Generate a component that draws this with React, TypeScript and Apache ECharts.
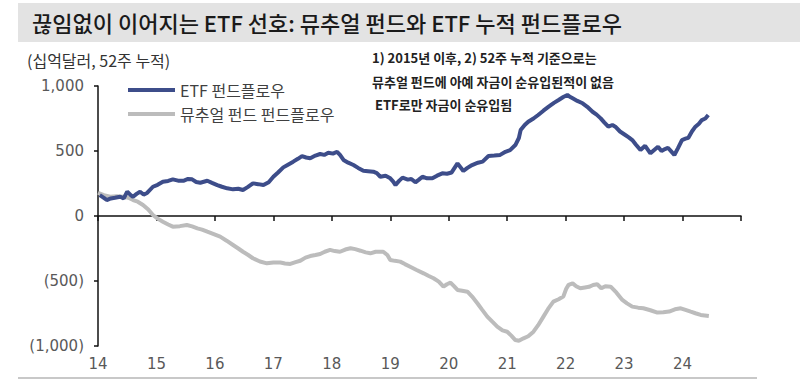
import React, { useEffect, useRef } from "react";
import * as echarts from "echarts";

const titleText = "끊임없이 이어지는 ETF 선호: 뮤추얼 펀드와 ETF 누적 펀드플로우";
const unitText = "(십억달러, 52주 누적)";
const noteLines = [
  "1) 2015년 이후, 2) 52주 누적 기준으로는",
  "뮤추얼 펀드에 아예 자금이 순유입된적이 없음",
  " ETF로만 자금이 순유입됨",
];
const seriesNames = ["ETF 펀드플로우", "뮤추얼 펀드 펀드플로우"];
const xTickLabels = ["14", "15", "16", "17", "18", "19", "20", "21", "22", "23", "24"];

const etfX = [
  14.03, 14.1, 14.15, 14.22, 14.29, 14.38, 14.44, 14.5, 14.56, 14.6, 14.66, 14.72, 14.78, 14.84, 14.94,
  15.02, 15.11, 15.2, 15.28, 15.37, 15.46, 15.54, 15.61, 15.68, 15.75, 15.87, 15.95, 16.04, 16.12,
  16.21, 16.31, 16.4, 16.48, 16.56, 16.65, 16.74, 16.83, 16.92, 17.0, 17.08, 17.17, 17.25, 17.34,
  17.42, 17.49, 17.56, 17.63, 17.72, 17.8, 17.87, 17.94, 18.02, 18.09, 18.14, 18.2, 18.28, 18.37,
  18.45, 18.54, 18.62, 18.71, 18.77, 18.83, 18.92, 19.0, 19.05, 19.09, 19.15, 19.21, 19.3, 19.36,
  19.43, 19.49, 19.55, 19.63, 19.72, 19.8, 19.89, 19.97, 20.05, 20.15, 20.25, 20.32, 20.4, 20.5,
  20.58, 20.68, 20.78, 20.88, 20.97, 21.05, 21.14, 21.2, 21.23, 21.3, 21.36, 21.45, 21.53, 21.62,
  21.71, 21.8, 21.88, 21.96, 22.03, 22.08, 22.12, 22.2, 22.29, 22.37, 22.46, 22.53, 22.6, 22.66,
  22.73, 22.8, 22.85, 22.93, 23.02, 23.08, 23.14, 23.2, 23.28, 23.36, 23.45, 23.52, 23.58, 23.64,
  23.7, 23.75, 23.81, 23.86, 23.92, 23.99, 24.05, 24.1, 24.16, 24.22, 24.28, 24.33, 24.39, 24.44,
];
const etfV = [
  161, 140, 123, 135, 140, 148, 135, 187, 160, 148, 170, 187, 165, 177, 225,
  240, 264, 270, 282, 272, 271, 285, 282, 262, 256, 271, 255, 238, 225,
  213, 205, 210, 200, 222, 251, 245, 238, 260, 302, 335, 374, 395, 418,
  440, 461, 450, 444, 465, 477, 470, 487, 480, 494, 470, 431, 410, 392,
  370, 348, 345, 341, 330, 302, 310, 290, 265, 238, 270, 295, 280, 285,
  259, 280, 302, 290, 290, 310, 328, 325, 335, 405, 346, 370, 392, 410,
  418, 461, 465, 470, 494, 507, 546, 600, 661, 700, 725, 750, 777, 810,
  841, 870, 892, 915, 931, 915, 905, 885, 867, 840, 802, 780, 751, 720,
  687, 700, 687, 650, 623, 605, 584, 550, 507, 540, 482, 510, 533, 500,
  515, 525, 495, 469, 520, 584, 595, 602, 650, 687, 710, 738, 750, 777,
];

const mfX = [
  14.0, 14.1, 14.21, 14.32, 14.43, 14.52, 14.6, 14.68, 14.77, 14.86, 14.94, 15.02, 15.11, 15.2,
  15.28, 15.4, 15.52, 15.61, 15.7, 15.78, 15.87, 15.98, 16.09, 16.2, 16.31, 16.4, 16.48, 16.57,
  16.65, 16.77, 16.89, 17.0, 17.12, 17.2, 17.29, 17.38, 17.46, 17.55, 17.63, 17.72, 17.8, 17.88,
  17.97, 18.05, 18.14, 18.23, 18.32, 18.4, 18.49, 18.58, 18.66, 18.75, 18.88, 18.95, 19.0, 19.08,
  19.17, 19.25, 19.34, 19.45, 19.57, 19.65, 19.74, 19.83, 19.91, 19.97, 20.03, 20.09, 20.15, 20.23,
  20.32, 20.4, 20.49, 20.57, 20.66, 20.75, 20.83, 20.92, 21.0, 21.07, 21.14, 21.2, 21.28, 21.36,
  21.45, 21.53, 21.62, 21.7, 21.79, 21.88, 21.96, 22.01, 22.05, 22.12, 22.18, 22.25, 22.33, 22.4,
  22.47, 22.54, 22.61, 22.68, 22.77, 22.87, 22.97, 23.05, 23.14, 23.24, 23.33, 23.45, 23.57, 23.67,
  23.77, 23.87, 23.97, 24.05, 24.14, 24.22, 24.31, 24.38, 24.45,
];
const mfV = [
  179, 160, 148, 152, 148, 140, 123, 110, 85, 50, 8, -20, -44, -65,
  -82, -78, -69, -80, -95, -105, -121, -140, -159, -190, -223, -250, -275, -300,
  -325, -350, -364, -358, -358, -365, -369, -355, -344, -320, -308, -300, -292, -275,
  -261, -270, -275, -258, -248, -255, -267, -280, -287, -275, -275, -300, -338, -345,
  -351, -370, -390, -415, -441, -460, -479, -505, -544, -525, -513, -540, -569, -575,
  -582, -620, -671, -720, -774, -815, -851, -880, -890, -920, -954, -960, -941, -925,
  -890, -840, -774, -715, -659, -640, -620, -560, -530, -518, -540, -556, -550, -545,
  -531, -525, -556, -540, -544, -590, -646, -672, -697, -705, -710, -725, -743, -740,
  -735, -718, -710, -722, -736, -748, -761, -765, -769,
];

const fmtY = (v: number) => {
  const s = Math.abs(v).toString().replace(/\B(?=(\d{3})+(?!\d))/g, ",");
  return v < 0 ? `(${s})` : s;
};

const FONT = "'Noto Sans CJK KR', 'Noto Sans', sans-serif";
const NUMFONT = "'DejaVu Sans', sans-serif";

export default function App() {
  const ref = useRef<HTMLDivElement>(null);
  useEffect(() => {
    document.body.style.margin = "0";
    if (!ref.current) return;
    const chart = echarts.init(ref.current, undefined, { renderer: "svg" });
    const etfData = etfX.map((x, i) => [x, etfV[i]]);
    const mfData = mfX.map((x, i) => [x, mfV[i]]);
    const xLabel = (v: number) => {
      const s = String(Math.round(v));
      return xTickLabels.includes(s) ? s : "";
    };
    chart.setOption({
      animation: false,
      backgroundColor: "#ffffff",
      textStyle: { fontFamily: FONT },
      grid: { left: 98, right: 59, top: 86, bottom: 35, containLabel: false },
      legend: {
        show: true,
        orient: "vertical",
        left: 123,
        top: 77,
        icon: "rect",
        itemWidth: 47,
        itemHeight: 4,
        itemGap: 8,
        data: seriesNames,
        textStyle: { fontFamily: FONT, fontSize: 16, color: "#404040" },
      },
      xAxis: [
        {
          type: "value",
          min: 14,
          max: 25,
          interval: 1,
          axisLine: { show: true, onZero: true, lineStyle: { color: "#111", width: 1.5 } },
          axisTick: { show: true, length: 5, lineStyle: { color: "#111", width: 1.5 } },
          axisLabel: { show: false },
          splitLine: { show: false },
        },
        {
          type: "value",
          min: 14,
          max: 25,
          interval: 1,
          position: "bottom",
          axisLine: { show: false, onZero: false },
          axisTick: { show: false },
          axisLabel: { show: true, margin: 10, fontSize: 15, color: "#595959", fontFamily: NUMFONT, formatter: xLabel },
          splitLine: { show: false },
        },
      ],
      yAxis: {
        type: "value",
        min: -1000,
        max: 1000,
        interval: 500,
        axisLine: { show: true, lineStyle: { color: "#111", width: 1.5 } },
        axisTick: { show: true, length: 4, lineStyle: { color: "#111", width: 1.5 } },
        axisLabel: { fontSize: 15, color: "#595959", margin: 14, formatter: fmtY, fontFamily: NUMFONT },
        splitLine: { show: false },
      },
      series: [
        {
          name: seriesNames[0],
          type: "line",
          xAxisIndex: 0,
          data: etfData,
          showSymbol: false,
          lineStyle: { color: "#3d4d8a", width: 4 },
          itemStyle: { color: "#3d4d8a" },
          z: 3,
        },
        {
          name: seriesNames[1],
          type: "line",
          xAxisIndex: 0,
          data: mfData,
          showSymbol: false,
          lineStyle: { color: "#bcbcbc", width: 4 },
          itemStyle: { color: "#bcbcbc" },
          z: 2,
        },
      ],
      graphic: [
        { type: "rect", shape: { x: 18, y: 3, width: 782, height: 39 }, style: { fill: "#e3e3e3" }, silent: true },
        {
          type: "text",
          x: 32,
          y: 22,
          style: { text: titleText, font: `500 22px ${FONT}`, fill: "#1a1a1a", textVerticalAlign: "middle" },
        },
        {
          type: "text",
          x: 27,
          y: 60,
          style: { text: unitText, font: `16px ${FONT}`, fill: "#333", textVerticalAlign: "middle" },
        },
        ...noteLines.map((t, i) => ({
          type: "text",
          x: 372,
          y: [57, 81, 104][i],
          style: { text: t, font: `bold 13px ${FONT}`, fill: "#222", textVerticalAlign: "middle" },
        })),
        { type: "rect", shape: { x: 18, y: 377, width: 739, height: 2 }, style: { fill: "#c8c8c8" }, silent: true },
      ],
    });
    return () => chart.dispose();
  }, []);
  return <div ref={ref} style={{ width: 800, height: 381 }} />;
}
